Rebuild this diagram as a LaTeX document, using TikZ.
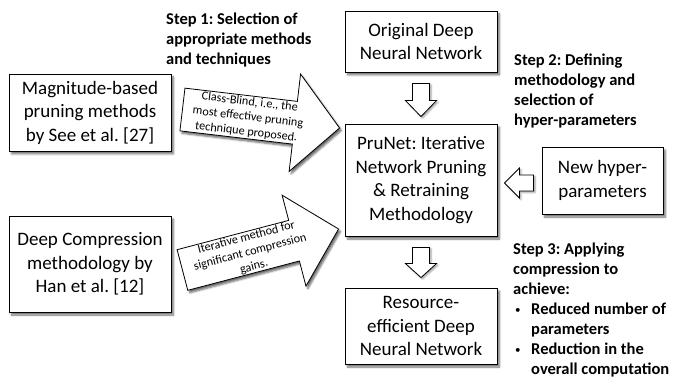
\documentclass[tikz,border=0pt]{standalone}
\usepackage{fontspec}
\setmainfont{Carlito}
\frenchspacing
\usetikzlibrary{calc,shadows.blur}
\newcommand{\smallbullet}{\makebox[18pt][l]{\hspace{2pt}\raisebox{0.8pt}{\fontsize{11}{11}\selectfont\mdseries•}}}
\begin{document}
\begin{tikzpicture}[x=1pt,y=-1pt,
  box/.style={draw=black, line width=0.9pt, fill=white, align=center, inner sep=0pt,
    font=\fontsize{19}{23.5}\selectfont,
    blur shadow={shadow xshift=2.5pt, shadow yshift=-3pt, shadow blur steps=6, shadow opacity=55}},
  steptext/.style={anchor=north west, align=left, inner sep=0pt,
    font=\fontsize{16.5}{20}\selectfont\bfseries},
  arrowtext/.style={align=center, inner sep=0pt, font=\fontsize{12.2}{15}\selectfont},
  blockarrow/.style={draw=black, line width=0.8pt, fill=white, line join=miter,
    blur shadow={shadow xshift=2pt, shadow yshift=-2.5pt, shadow blur steps=5, shadow opacity=60}},
  smallarrow/.style={draw=black, line width=0.8pt, fill=white, line join=miter,
    blur shadow={shadow xshift=1.5pt, shadow yshift=-1.5pt, shadow blur steps=4, shadow opacity=40}},
]
\useasboundingbox (0,0) rectangle (673,379);

% boxes
\node[box, minimum width=152, minimum height=61] (orig) at (421,41.5) {Original Deep\\Neural Network};
\node[box, minimum width=152, minimum height=112] (prunet) at (421,180) {PruNet: Iterative\\Network Pruning\\\& Retraining\\Methodology};
\node[box, minimum width=152, minimum height=76] (res) at (421,326) {Resource-\\efficient Deep\\Neural Network};
\node[box, minimum width=162, minimum height=77] (mag) at (90,112.5) {Magnitude-based\\pruning methods\\by See et al. [27]};
\node[box, minimum width=162, minimum height=96] (deep) at (90,264) {Deep Compression\\methodology by\\Han et al. [12]};
\node[box, minimum width=121, minimum height=67] (newh) at (602.5,180.5) {New hyper-\\parameters};

% step texts
\node[steptext] (step1) at (166,13) {Step 1: Selection of\\appropriate methods\\and techniques};
\node[steptext] (step2) at (514,54) {Step 2: Defining\\methodology and\\selection of\\hyper-parameters};
\node[steptext] (step3) at (513,243) {Step 3: Applying\\compression to\\achieve:\\
  \smallbullet Reduced number of\\
  \hspace*{18pt}parameters\\
  \smallbullet Reduction in the\\
  \hspace*{18pt}overall computation};

% big block arrows
\draw[blockarrow] let \p1=($(mag.east)+(11,-3)$), \p2=($(prunet.west)+(-5,-52)$),
  \n1={atan2(\y2-\y1,\x2-\x1)}, \n2={veclen(\x2-\x1,\y2-\y1)} in
  {[shift={(\p1)}, rotate=\n1]
  (0,-21.5) -- (\n2-45,-21.5) -- (\n2-45,-49) -- (\n2,0) -- (\n2-45,49) -- (\n2-45,21.5) -- (0,21.5) -- cycle
  (66,0) node[arrowtext, rotate=\n1] (t1) {Class-Blind, i.e., the\\most effective pruning\\technique proposed.}};

\draw[blockarrow] let \p1=($(deep.east)+(11,6)$), \p2=($(prunet.west)+(-6,49)$),
  \n1={atan2(\y2-\y1,\x2-\x1)}, \n2={veclen(\x2-\x1,\y2-\y1)} in
  {[shift={(\p1)}, rotate=\n1]
  (0,-21) -- (\n2-46,-21) -- (\n2-46,-47) -- (\n2,0) -- (\n2-46,47) -- (\n2-46,21) -- (0,21) -- cycle
  (70,0) node[arrowtext, rotate=\n1] (t2) {Iterative method for\\significant compression\\gains.}};

% small hollow arrows
\draw[smallarrow] let \p1=($(orig.south)+(0,11)$), \p2=($(prunet.north)+(0,-7)$),
  \n1={atan2(\y2-\y1,\x2-\x1)}, \n2={veclen(\x2-\x1,\y2-\y1)} in
  {[shift={(\p1)}, rotate=\n1]
  (0,-8.5) -- (\n2-16,-8.5) -- (\n2-16,-15.5) -- (\n2,0) -- (\n2-16,15.5) -- (\n2-16,8.5) -- (0,8.5) -- cycle};

\draw[smallarrow] let \p1=($(prunet.south)+(0,11)$), \p2=($(res.north)+(0,-10)$),
  \n1={atan2(\y2-\y1,\x2-\x1)}, \n2={veclen(\x2-\x1,\y2-\y1)} in
  {[shift={(\p1)}, rotate=\n1]
  (0,-8.5) -- (\n2-14,-8.5) -- (\n2-14,-15.5) -- (\n2,0) -- (\n2-14,15.5) -- (\n2-14,8.5) -- (0,8.5) -- cycle};

\draw[smallarrow] let \p1=($(newh.west)+(-8,2.5)$), \p2=($(prunet.east)+(7,3)$),
  \n1={atan2(\y2-\y1,\x2-\x1)}, \n2={veclen(\x2-\x1,\y2-\y1)} in
  {[shift={(\p1)}, rotate=\n1]
  (0,-8) -- (\n2-15,-8) -- (\n2-15,-15) -- (\n2,0) -- (\n2-15,15) -- (\n2-15,8) -- (0,8) -- cycle};
\end{tikzpicture}
\end{document}
